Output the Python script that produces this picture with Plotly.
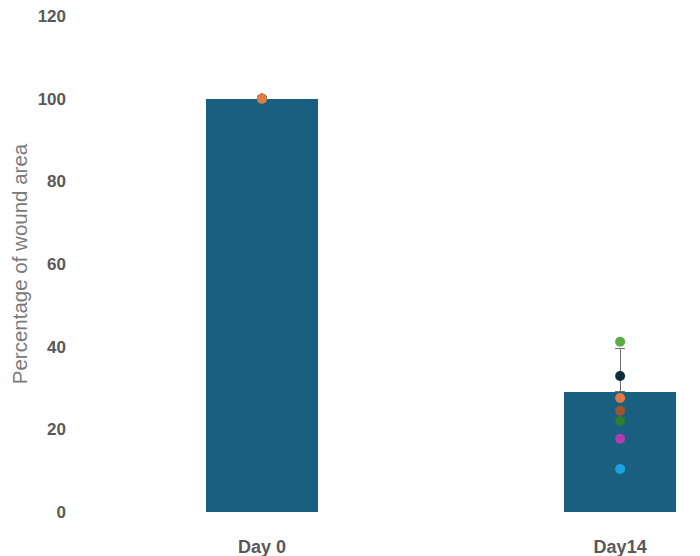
import plotly.graph_objects as go

# group means and upper error
days = ["Day 0", "Day14"]
mean_area = [100, 29.1]
err_up = [0, 10.4]

# individual wounds (one colour per subject), Day 0 then Day14
subject_colors = ["#1aa3dc", "#b03cb0", "#2e7d32", "#a0522d", "#0d2d40", "#5aac44", "#e07b45"]
day0_vals = [100, 100, 100, 100, 100, 100, 100]
day14_vals = [10.4, 17.7, 22.0, 24.5, 32.9, 41.2, 27.6]

fig = go.Figure()
fig.add_trace(go.Bar(
    x=[0, 1], y=mean_area, width=0.313, marker=dict(color="#1a5e80", line=dict(width=0)),
    error_y=dict(type="data", array=err_up, arrayminus=[0, 0], symmetric=False,
                 color="#6b6b6b", thickness=1.2, width=5),
    showlegend=False, hoverinfo="skip",
))
for col, a, b in zip(subject_colors, day0_vals, day14_vals):
    fig.add_trace(go.Scatter(
        x=[0, 1], y=[a, b], mode="markers", showlegend=False,
        marker=dict(color=col, size=10, line=dict(width=0)),
    ))

fig.update_layout(
    width=700, height=556, paper_bgcolor="white", plot_bgcolor="white",
    margin=dict(l=72, r=8, t=8, b=52),
    font=dict(family="Liberation Sans, Arial, sans-serif", color="#595959"),
    bargap=0,
)
fig.update_xaxes(
    range=[-0.508, 1.223], tickvals=[0, 1], ticktext=[f"<b>{d}</b>" for d in days],
    showgrid=False, zeroline=False, showline=False, ticks="", automargin=False,
    tickfont=dict(size=18, color="#595959"), ticklabelstandoff=22,
)
fig.update_yaxes(
    range=[0, 120], tickvals=[0, 20, 40, 60, 80, 100, 120],
    ticktext=[f"<b>{v}</b>" for v in [0, 20, 40, 60, 80, 100, 120]],
    showgrid=False, zeroline=False, showline=False, ticks="", automargin=False,
    tickfont=dict(size=17, color="#595959"), ticklabelstandoff=13,
    ticklabeloverflow="allow",
    title=dict(text="Percentage of wound area", font=dict(size=20.5, color="#7a7a7a"), standoff=4),
)
fig.write_html("out.html")
